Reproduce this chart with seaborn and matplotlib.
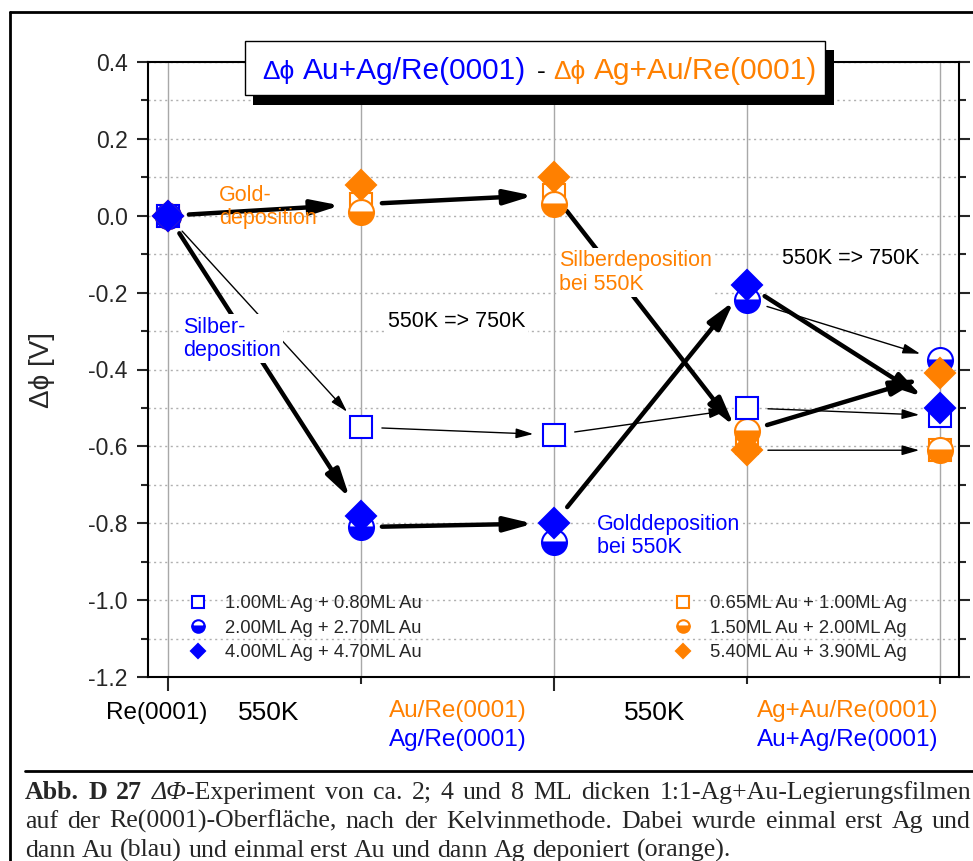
import matplotlib
matplotlib.use("Agg")
import seaborn as sns
import matplotlib.pyplot as plt
from matplotlib.lines import Line2D
from matplotlib.patches import Rectangle

# ---------------- Daten ----------------
schritte = [0, 1, 2, 3, 4]

# x-Beschriftung (zwischen den Schritten)
x_texte = [["Re(0001)"], ["550K"], ["Au/Re(0001)", "Ag/Re(0001)"],
           ["550K"], ["Ag+Au/Re(0001)", "Au+Ag/Re(0001)"]]

# erst Ag, dann Au (blau)
blau_legende = ["1.00ML Ag + 0.80ML Au", "2.00ML Ag + 2.70ML Au", "4.00ML Ag + 4.70ML Au"]
blau_quadrat = [0.0, -0.55, -0.57, -0.50, -0.52]
blau_kreis = [0.0, -0.81, -0.85, -0.22, -0.375]
blau_raute = [0.0, -0.78, -0.80, -0.18, -0.50]

# erst Au, dann Ag (orange)
orange_legende = ["0.65ML Au + 1.00ML Ag", "1.50ML Au + 2.00ML Ag", "5.40ML Au + 3.90ML Ag"]
orange_quadrat = [0.0, 0.03, 0.055, -0.59, -0.61]
orange_kreis = [0.0, 0.01, 0.03, -0.56, -0.61]
orange_raute = [0.0, 0.08, 0.10, -0.61, -0.41]

reihen = {"bq": blau_quadrat, "bk": blau_kreis, "br": blau_raute,
          "oq": orange_quadrat, "ok": orange_kreis, "or": orange_raute}

# Pfeile: (von Reihe, von Schritt, nach Reihe, nach Schritt, dick)
pfeile = [
    ("bq", 0, "bq", 1, False), ("br", 0, "br", 1, True), ("oq", 0, "oq", 1, True),
    ("bk", 1, "br", 2, True), ("bq", 1, "bq", 2, False), ("oq", 1, "oq", 2, True),
    ("br", 2, "br", 3, True), ("bq", 2, "bq", 3, False), ("oq", 2, "oq", 3, True),
    ("br", 3, "br", 4, True), ("bk", 3, "bk", 4, False), ("bq", 3, "bq", 4, False),
    ("ok", 3, "or", 4, True), ("or", 3, "oq", 4, False),
]

bildunterschrift = [
    [[("Abb.", "bold", "normal")], [("D", "bold", "normal")], [("27", "bold", "normal")],
     [("ΔΦ", "normal", "italic"), ("-Experiment", "normal", "normal")]]
    + [[(w, "normal", "normal")] for w in "von ca. 2; 4 und 8 ML dicken 1:1-Ag+Au-Legierungsfilmen".split()],
    [[(w, "normal", "normal")] for w in
     "auf der Re(0001)-Oberfläche, nach der Kelvinmethode. Dabei wurde einmal erst Ag und".split()],
    [[(w, "normal", "normal")] for w in
     "dann Au (blau) und einmal erst Au und dann Ag deponiert (orange).".split()],
]

BLAU = "#0000ff"
ORANGE = "#ff8000"
W, H = 973, 861

sns.set_style("ticks")
plt.rcParams["font.family"] = ["Liberation Sans", "DejaVu Sans"]
plt.rcParams["axes.unicode_minus"] = False

fig = plt.figure(figsize=(W / 100, H / 100), dpi=100)
ax = fig.add_axes([148 / W, 1 - 677 / H, (959 - 148) / W, (677 - 62) / H])


def punkte(werte, marker, farbe, groesse, fuellung):
    kws = dict(marker=marker, markersize=groesse, color=farbe, markeredgecolor=farbe,
               linestyle="", markeredgewidth=1.5, zorder=4)
    if fuellung == "unten":
        kws.update(fillstyle="bottom", markerfacecoloralt="white")
    elif fuellung == "leer":
        kws.update(markerfacecolor="white")
    sns.lineplot(x=schritte, y=werte, ax=ax, errorbar=None, sort=False, **kws)
    return ax.lines[-1]


# Zeichenreihenfolge wie im Original
h_oq = punkte(orange_quadrat, "s", ORANGE, 16, "leer")
h_ok = punkte(orange_kreis, "o", ORANGE, 18, "unten")
h_bq = punkte(blau_quadrat, "s", BLAU, 16, "leer")
h_bk = punkte(blau_kreis, "o", BLAU, 18, "unten")
h_or = punkte(orange_raute, "D", ORANGE, 15, "voll")
h_br = punkte(blau_raute, "D", BLAU, 15, "voll")

# Pfeile zwischen den Messpunkten
for r1, i, r2, j, dick in pfeile:
    if dick:
        stil = dict(arrowstyle="-|>,head_length=0.85,head_width=0.22", lw=3.2, mutation_scale=20)
    else:
        stil = dict(arrowstyle="-|>,head_length=0.7,head_width=0.2", lw=1.0, mutation_scale=15)
    ax.annotate("", xy=(schritte[j], reihen[r2][j]), xytext=(schritte[i], reihen[r1][i]),
                arrowprops=dict(color="black", shrinkA=15, shrinkB=15, **stil), zorder=3)

# Achsen
ax.set_xlim(-0.104, 4.098)
ax.set_ylim(-1.2, 0.4)
ax.set_xticks([0, 2])
ax.set_xticks([1, 3, 4], minor=True)
ax.set_yticks([0.4, 0.2, 0.0, -0.2, -0.4, -0.6, -0.8, -1.0, -1.2])
ax.set_yticks([0.3, 0.1, -0.1, -0.3, -0.5, -0.7, -0.9, -1.1], minor=True)
ax.set_yticklabels([f"{v:.1f}" for v in ax.get_yticks()])
ax.tick_params(axis="y", which="major", length=8, width=1.5, labelsize=16.5, pad=6.5, direction="out")
ax.tick_params(axis="y", which="minor", length=5, width=1.5, direction="out")
ax.tick_params(axis="y", which="both", right=True)
ax.tick_params(axis="x", which="major", length=10, width=1.5, labelbottom=False, direction="out")
ax.tick_params(axis="x", which="minor", length=5, width=1.5, direction="out")
ax.set_axisbelow(True)
ax.grid(axis="x", which="both", color="#a8a8a8", lw=1.0, ls="-")
ax.grid(axis="y", which="both", color="#b0b0b0", lw=1.0, ls=(0, (1.5, 2.5)))
for s in ax.spines.values():
    s.set_linewidth(1.5)
    s.set_color("black")
ax.set_ylabel("Δϕ [V]", fontsize=20)
ax.yaxis.set_label_coords(-0.1147, 0.5)

# x-Beschriftung
x_pos = [-0.06, 0.52, 1.5, 2.52, 3.52]
for pos, zeilen in zip(x_pos, x_texte):
    if len(zeilen) == 1:
        gr = 19 if zeilen[0] == "550K" else 17.5
        ax.text(pos, -0.0585, zeilen[0], transform=ax.get_xaxis_transform(),
                ha="center", va="center", fontsize=gr, color="black")
    else:
        ax.text(pos, -0.055, zeilen[0], transform=ax.get_xaxis_transform(),
                ha="center", va="center", fontsize=17.5, color=ORANGE)
        ax.text(pos, -0.102, zeilen[1], transform=ax.get_xaxis_transform(),
                ha="center", va="center", fontsize=17.5, color=BLAU)

# Beschriftungen im Diagramm
weiss = dict(facecolor="white", edgecolor="none", pad=1.5)
ax.text(0.265, 0.022, "Gold-\ndeposition", color=ORANGE, fontsize=15.5, ha="left", va="center",
        linespacing=1.15, zorder=5)
ax.text(0.078, -0.32, "Silber-\ndeposition", color=BLAU, fontsize=15.5, ha="left", va="center",
        linespacing=1.15, bbox=weiss, zorder=5)
ax.text(1.14, -0.276, "550K => 750K", color="black", fontsize=15.5, ha="left", va="center",
        bbox=weiss, zorder=5)
ax.text(2.026, -0.148, "Silberdeposition\nbei 550K", color=ORANGE, fontsize=15.5, ha="left",
        va="center", linespacing=1.15, bbox=weiss, zorder=5)
ax.text(3.18, -0.11, "550K => 750K", color="black", fontsize=15.5, ha="left", va="center",
        bbox=weiss, zorder=5)
ax.text(2.223, -0.833, "Golddeposition\nbei 550K", color=BLAU, fontsize=15.5, ha="left",
        va="center", linespacing=1.15, bbox=weiss, zorder=5)

# Legenden
leg_kws = dict(loc="upper left", frameon=False, fontsize=13.3, markerscale=0.5, handlelength=1.2,
               handletextpad=0.85, labelspacing=0.4, borderpad=0, borderaxespad=0)
leg1 = ax.legend([h_bq, h_bk, h_br], blau_legende, bbox_to_anchor=(0.048, 0.133), **leg_kws)
ax.add_artist(leg1)
ax.legend([h_oq, h_ok, h_or], orange_legende, bbox_to_anchor=(0.646, 0.133), **leg_kws)

renderer = fig.canvas.get_renderer()

# Titelkasten mit Schatten
fig.patches.append(Rectangle((253 / W, 1 - 105 / H), 581 / W, 55 / H, transform=fig.transFigure,
                             facecolor="black", edgecolor="none", zorder=10))
fig.patches.append(Rectangle((245 / W, 1 - 95 / H), 580 / W, 54 / H, transform=fig.transFigure,
                             facecolor="white", edgecolor="black", lw=1, zorder=11))
x = 262
for txt, farbe, gr, luecke in [("Δϕ", BLAU, 19, 9), ("Au+Ag/Re(0001)", BLAU, 21.5, 10),
                               ("-", "black", 19, 8), ("Δϕ", ORANGE, 19, 8),
                               ("Ag+Au/Re(0001)", ORANGE, 21.5, 0)]:
    t = fig.text(x / W, 1 - 79 / H, txt, color=farbe, fontsize=gr, ha="left", va="baseline", zorder=12)
    x += t.get_window_extent(renderer).width + luecke

# Rahmen
fig.add_artist(Line2D([10 / W, 10 / W], [1 - 12 / H, 0], transform=fig.transFigure, color="black", lw=2))
fig.add_artist(Line2D([10 / W, 1], [1 - 12 / H, 1 - 12 / H], transform=fig.transFigure, color="black", lw=2))
fig.add_artist(Line2D([25 / W, 1], [1 - 771 / H, 1 - 771 / H], transform=fig.transFigure, color="black", lw=2))

# Bildunterschrift im Blocksatz
x0, x1, gr = 25, 971, 18.6
serif = ["Liberation Serif", "DejaVu Serif"]
for n, zeile in enumerate(bildunterschrift):
    y = 1 - (799 + 29 * n) / H
    woerter = []
    for wort in zeile:
        teile = []
        for txt, gew, stil in wort:
            t = fig.text(0, y, txt, fontsize=gr, family=serif, weight=gew, style=stil, va="baseline")
            teile.append((t, t.get_window_extent(renderer).width))
        woerter.append(teile)
    breiten = [sum(b for _, b in teile) for teile in woerter]
    if n < len(bildunterschrift) - 1:
        luecke = (x1 - x0 - sum(breiten)) / (len(woerter) - 1)
    else:
        luecke = 0.25 * gr * 100 / 72
    x = x0
    for teile, b in zip(woerter, breiten):
        xx = x
        for t, bt in teile:
            t.set_x(xx / W)
            xx += bt
        x += b + luecke

fig.savefig("out.png", dpi=100)
